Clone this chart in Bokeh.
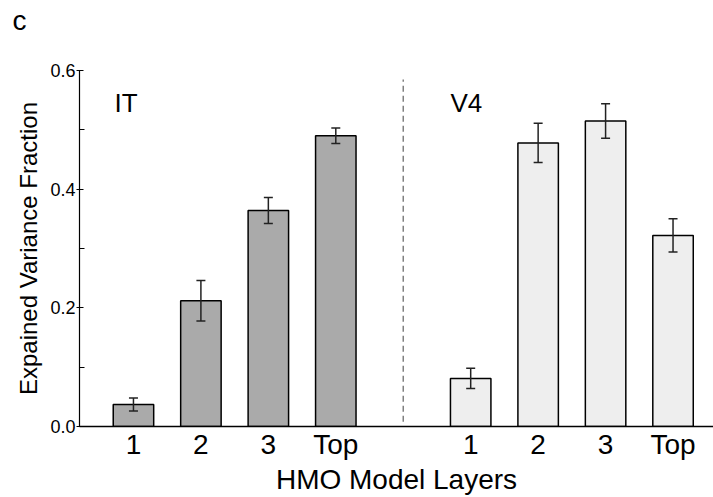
from bokeh.plotting import figure
from bokeh.models import (ColumnDataSource, Whisker, TeeHead, Range1d, FixedTicker, Label, Title)
from bokeh.embed import file_html
from bokeh.resources import INLINE

# ---- data ----
categories = ["1", "2", "3", "Top"]
it_positions = [1, 2, 3, 4]
v4_positions = [6, 7, 8, 9]
it_values = [0.037, 0.212, 0.364, 0.490]
it_errors = [0.011, 0.034, 0.022, 0.013]
v4_values = [0.081, 0.478, 0.515, 0.322]
v4_errors = [0.017, 0.033, 0.029, 0.028]
region_names = ["IT", "V4"]
separator_x = 5
y_ticks = [0.0, 0.2, 0.4, 0.6]

FONT = "Liberation Sans"

p = figure(width=713, height=497, output_backend="svg", toolbar_location=None,
           x_range=Range1d(0.2, 9.6), y_range=Range1d(0, 0.6),
           min_border_left=79, min_border_right=0, min_border_top=70,
           min_border_bottom=0)
p.outline_line_color = None
p.grid.visible = False
p.background_fill_color = "white"
p.border_fill_color = "white"

def bars(pos, vals, errs, fill):
    src = ColumnDataSource(dict(x=pos, top=vals,
                                upper=[v + e for v, e in zip(vals, errs)],
                                lower=[v - e for v, e in zip(vals, errs)]))
    p.vbar(x="x", top="top", bottom=0, width=0.6, source=src,
           fill_color=fill, line_color="black", line_width=1.5)
    w = Whisker(base="x", upper="upper", lower="lower", source=src,
                line_color="#222222", line_width=1.5, level="overlay",
                upper_head=TeeHead(size=9, line_color="#222222", line_width=1.5),
                lower_head=TeeHead(size=9, line_color="#222222", line_width=1.5))
    p.add_layout(w)

bars(it_positions, it_values, it_errors, "#aaaaaa")
bars(v4_positions, v4_values, v4_errors, "#eeeeee")

# separator
p.segment(x0=[separator_x], y0=[0.008], x1=[separator_x], y1=[0.585],
          line_color="#808080", line_width=1.5, line_dash="6 4")

# region labels
for name, xpos in zip(region_names, [0.72, 5.70]):
    p.add_layout(Label(x=xpos, y=0.545, text=name, text_font=FONT,
                       text_font_size="26px", text_color="black",
                       text_baseline="alphabetic", text_align="left"))

# x axis
xa = p.xaxis[0]
xa.ticker = FixedTicker(ticks=it_positions + v4_positions)
xa.major_label_overrides = {x: c for x, c in zip(it_positions + v4_positions, categories * 2)}
xa.major_tick_in = 0
xa.major_tick_out = 0
xa.minor_tick_in = 0
xa.minor_tick_out = 0
xa.axis_line_width = 1.5
xa.axis_line_color = "black"
xa.major_label_text_font = FONT
xa.major_label_text_font_size = "28px"
xa.major_label_text_color = "black"
xa.major_label_standoff = 2
xa.axis_label = "HMO Model Layers"
xa.axis_label_text_font = FONT
xa.axis_label_text_font_size = "28px"
xa.axis_label_text_font_style = "normal"
xa.axis_label_text_color = "black"
xa.axis_label_standoff = 1

# y axis
ya = p.yaxis[0]
ya.ticker = FixedTicker(ticks=y_ticks, minor_ticks=[0.1, 0.3, 0.5])
ya.major_label_overrides = {t: f"{t:.1f}" for t in y_ticks}
ya.major_tick_in = 4
ya.major_tick_out = 3
ya.minor_tick_in = 5
ya.minor_tick_out = 0
ya.major_tick_line_color = "black"
ya.minor_tick_line_color = "black"
ya.axis_line_width = 1.2
ya.axis_line_color = "black"
ya.major_label_text_font = FONT
ya.major_label_text_font_size = "18px"
ya.major_label_text_color = "black"
ya.major_label_standoff = 1
ya.axis_label = "Expained Variance Fraction"
ya.axis_label_text_font = FONT
ya.axis_label_text_font_size = "24px"
ya.axis_label_text_font_style = "normal"
ya.axis_label_text_color = "black"
ya.axis_label_standoff = 5

# panel letter (second empty line lifts it to the top of the canvas)
t = Title(text="c\n", align="left", offset=-67, standoff=4, vertical_align="top",
          text_font=FONT, text_font_size="28px", text_font_style="normal",
          text_color="black")
p.add_layout(t, "above")

open("out.html", "w").write(file_html(p, INLINE))
